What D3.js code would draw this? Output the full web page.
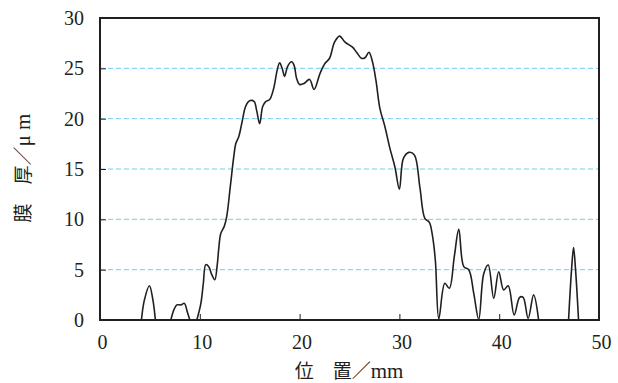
<!DOCTYPE html>
<html>
<head>
<meta charset="utf-8">
<script src="https://cdn.jsdelivr.net/npm/d3@7"></script>
<style>
  body { margin: 0; background: #fff; }
  svg { display: block; }
  .serif { font-family: 'Liberation Serif', 'Times New Roman', 'DejaVu Serif', serif; }
  .cjk { font-family: 'Noto Sans CJK JP', sans-serif; }
</style>
</head>
<body>
<script>
// Film thickness profile data (mm vs um), null = no reading drawn
const positionMm = [
  4.15, 4.45, 4.95, 5.3, 5.55, null,
  7.1, 7.4, 7.7, 8.1, 8.45, 8.75, 9.0, null,
  9.7, 10.1, 10.35, 10.6, 10.9, 11.2, 11.5, 11.75, 11.9, 12.1, 12.45, 12.7,
  13.05, 13.4, 13.6, 13.9, 14.2, 14.55, 14.8, 15.05, 15.45, 15.7, 16.0, 16.3,
  16.6, 17.0, 17.4, 17.75, 18.0, 18.25, 18.5, 18.8, 19.2, 19.45, 19.7, 20.0,
  20.45, 21.0, 21.45, 22.05, 22.55, 23.0, 23.5, 24.0, 24.55, 25.3, 25.7, 26.2,
  26.55, 26.95, 27.3, 27.65, 28.05, 28.55, 29.05, 29.55, 30.0, 30.4, 30.95,
  31.5, 32.05, 32.55, 33.0, 33.3, 33.6, 33.95, 34.55, 35.0, 35.5, 35.95, 36.45,
  36.95, 37.45, 37.95, 38.45, 38.9, 39.45, 39.95, 40.45, 40.9, 41.5, 42.05,
  42.4, 42.9, 43.45, 43.95, null,
  46.95, 47.25, 47.45, 47.65, 47.95
]
const thicknessUm = [
  0, 2.0, 3.4, 2.0, 0, null,
  0, 1.0, 1.5, 1.5, 1.65, 0.8, 0, null,
  0, 1.6, 3.6, 5.5, 5.3, 4.5, 4.0, 5.5, 7.1, 8.6, 9.3, 10.3,
  13.2, 16.2, 17.5, 18.2, 19.5, 21.1, 21.6, 21.8, 21.7, 20.8, 19.5, 21.2,
  21.7, 21.9, 23.0, 24.8, 25.55, 25.0, 24.2, 25.2, 25.65, 25.3, 24.0, 23.4,
  23.5, 23.9, 22.9, 24.5, 25.5, 26.0, 27.6, 28.2, 27.6, 27.1, 26.6, 26.0,
  26.05, 26.6, 25.65, 23.8, 21.0, 19.2, 17.05, 15.2, 13.0, 16.05, 16.65,
  16.4, 13.2, 10.1, 9.7, 8.45, 5.96, 0.1, 3.64, 3.15, 6.3, 9.0, 5.3,
  5.0, 2.65, 0.05, 4.6, 5.46, 2.15, 4.8, 2.98, 3.4, 0.5, 2.25,
  2.25, 0.15, 2.5, 0, null,
  0, 5.0, 7.2, 5.0, 0
]
const xTicks = [0, 10, 20, 30, 40, 50]
const yTicks = [0, 5, 10, 15, 20, 25, 30]
const gridValues = [5, 10, 15, 20, 25]

const w = 618
const h = 383
const margin = { left: 100, right: 19, top: 18, bottom: 63 }
const ink = '#231f20'

const svg = d3.select('body')
  .append('svg')
  .attr('width', w)
  .attr('height', h)

const xScale = d3.scaleLinear().domain([0, 50]).range([margin.left, w - margin.right])
const yScale = d3.scaleLinear().domain([0, 30]).range([h - margin.bottom, margin.top])

//Grid lines
svg.append('g')
  .selectAll('line')
  .data(gridValues)
  .enter()
  .append('line')
  .attr('x1', xScale(0))
  .attr('x2', xScale(50))
  .attr('y1', d => yScale(d))
  .attr('y2', d => yScale(d))
  .attr('stroke', '#6fcdee')
  .attr('stroke-width', 1)
  .attr('stroke-dasharray', '5,3')

//Clip for the profile
svg.append('clipPath')
  .attr('id', 'plot-clip')
  .append('rect')
  .attr('x', xScale(0))
  .attr('y', yScale(30))
  .attr('width', xScale(50) - xScale(0))
  .attr('height', yScale(0) - yScale(30))

const points = positionMm.map((x, i) => ({ x: x, y: thicknessUm[i] }))

const line = d3.line()
  .defined(d => d.x !== null && d.y !== null)
  .x(d => xScale(d.x))
  .y(d => yScale(d.y))
  .curve(d3.curveCatmullRom.alpha(0.5))

svg.append('path')
  .datum(points)
  .attr('clip-path', 'url(#plot-clip)')
  .attr('d', line)
  .attr('fill', 'none')
  .attr('stroke', ink)
  .attr('stroke-width', 1.6)
  .attr('stroke-linejoin', 'round')

//Axes
const xAxis = d3.axisBottom(xScale).tickValues(xTicks).tickSize(-6).tickPadding(15)
const yAxis = d3.axisLeft(yScale).tickValues(yTicks).tickSize(-6).tickPadding(16)

const gx = svg.append('g')
  .attr('transform', 'translate(0,' + yScale(0) + ')')
  .call(xAxis)
const gy = svg.append('g')
  .attr('transform', 'translate(' + xScale(0) + ',0)')
  .call(yAxis)

;[gx, gy].forEach(g => {
  g.attr('font-family', null).attr('font-size', null)
  g.select('.domain').remove()
  g.selectAll('line').attr('stroke', ink).attr('stroke-width', 1)
  g.selectAll('text')
    .attr('class', 'serif')
    .attr('fill', ink)
    .style('font-size', '20px')
})
gx.selectAll('text').attr('dx', 2)

//Frame
svg.append('rect')
  .attr('x', xScale(0))
  .attr('y', yScale(30))
  .attr('width', xScale(50) - xScale(0))
  .attr('height', yScale(0) - yScale(30))
  .attr('fill', 'none')
  .attr('stroke', ink)
  .attr('stroke-width', 2)

//Axis titles
const xTitle = svg.append('text')
  .attr('x', 349)
  .attr('y', 378)
  .attr('text-anchor', 'middle')
  .attr('fill', ink)
  .style('font-size', '19px')
xTitle.append('tspan').attr('class', 'cjk').text('位\u3000置／')
xTitle.append('tspan').attr('class', 'serif').style('font-size', '21px').text('mm')

const yTitle = svg.append('text')
  .attr('transform', 'translate(30,168) rotate(-90)')
  .attr('text-anchor', 'middle')
  .attr('fill', ink)
  .style('font-size', '19px')
yTitle.append('tspan').attr('class', 'cjk').text('膜\u3000厚／')
yTitle.append('tspan').attr('class', 'serif').style('font-size', '21px').text('μ m')
</script>
</body>
</html>
